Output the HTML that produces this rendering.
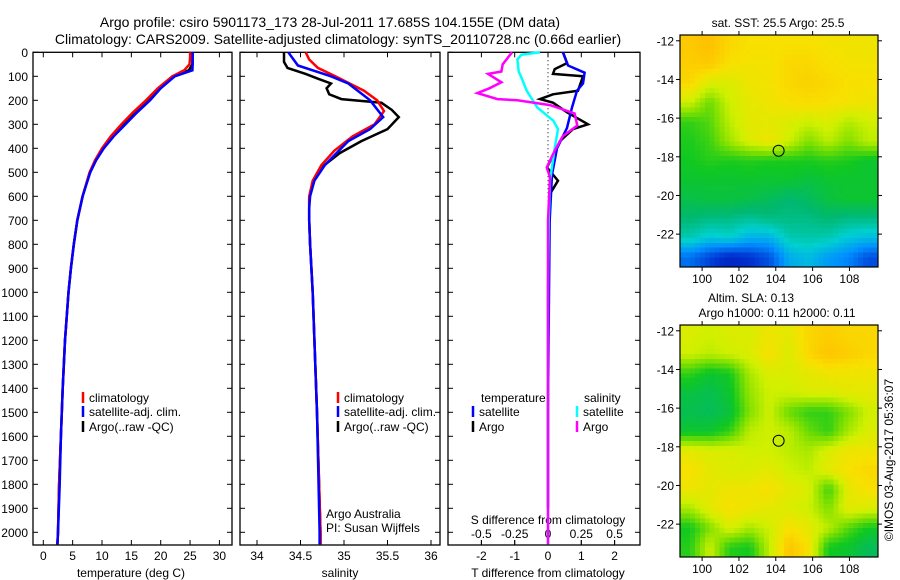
<!DOCTYPE html>
<html><head><meta charset="utf-8"><style>
body{margin:0;background:#fff;}
svg{display:block;font-family:"Liberation Sans",sans-serif;}
text{fill:#000;}
</style></head><body>
<svg id="fig" width="900" height="580" viewBox="0 0 900 580">
<text x="330" y="27" font-size="14" text-anchor="middle">Argo profile: csiro 5901173_173 28-Jul-2011 17.685S 104.155E (DM data)</text>
<text x="338" y="44" font-size="14" text-anchor="middle">Climatology: CARS2009. Satellite-adjusted climatology: synTS_20110728.nc (0.66d earlier)</text>
<g id="g"></g>
</svg>
<script>
// ---- data ----
const tDepth=[0,20,50,75,100,150,200,250,300,350,400,450,500,600,700,800,900,1000,1200,1400,1600,1800,2000,2050];
const tClim=[25.0,25.0,24.9,24.0,22.0,19.5,17.5,15.3,13.3,11.5,10.0,8.8,7.9,6.7,5.8,5.2,4.7,4.3,3.7,3.3,3.0,2.7,2.5,2.4];
const tSat=[25.45,25.45,25.45,25.4,22.4,20.0,18.2,16.0,14.0,12.0,10.3,9.0,8.0,6.7,5.8,5.2,4.7,4.3,3.7,3.3,3.0,2.8,2.5,2.4];
const tArgo=[25.4,25.4,25.4,24.8,22.0,19.8,17.8,15.6,13.6,11.6,10.1,8.9,7.9,6.7,5.8,5.2,4.7,4.3,3.7,3.3,3.0,2.7,2.5,2.4];
const sClimDepth=[0,30,65,100,160,200,245,300,350,410,470,535,600,650,700,800,1000,1500,2000,2050];
const sClim=[34.56,34.6,34.70,34.9,35.23,35.38,35.46,35.35,35.1,34.89,34.74,34.64,34.6,34.6,34.6,34.61,34.64,34.69,34.73,34.73];
const sSatDepth=[0,20,55,100,130,200,270,320,370,410,470,535,600,650,700,800,1000,1500,2000,2050];
const sSat=[34.36,34.4,34.47,34.85,35.05,35.3,35.45,35.3,35.05,34.94,34.78,34.66,34.61,34.6,34.6,34.61,34.64,34.69,34.72,34.72];
const sArgoDepth=[0,40,65,90,110,130,150,175,195,210,240,270,320,370,420,480,540,605,700,800,1000,1500,2000,2050];
const sArgo=[34.31,34.31,34.35,34.56,34.7,34.85,34.8,34.83,34.97,35.43,35.55,35.63,35.5,35.2,34.95,34.74,34.65,34.6,34.6,34.61,34.64,34.69,34.73,34.73];
const dtSatDepth=[0,55,85,130,160,230,315,400,510,700,1000,1500,1900];
const dtSat=[0.45,0.6,1.1,1.05,0.87,0.72,0.57,0.27,0.12,0.05,0.03,0.0,0.0];
const dtArgoDepth=[0,45,70,90,100,160,175,195,210,250,300,320,370,480,535,590,700,1000,1500,1900];
const dtArgo=[0.45,0.57,0.2,0.15,1.05,0.9,0.15,-0.24,0.15,0.57,1.2,0.75,0.36,-0.03,0.3,0.06,0.02,0,0,0];
const dsSatDepth=[0,10,30,80,105,160,230,285,320,400,535,700,1000,2050];
const dsSat=[-0.06,-0.2,-0.23,-0.22,-0.2,-0.16,-0.08,0.04,0.075,0.05,0.015,0.005,0,0];
const dsArgoDepth=[0,50,80,90,125,150,170,195,200,220,255,305,350,410,480,520,700,1000,2050];
const dsArgo=[-0.27,-0.34,-0.35,-0.45,-0.35,-0.44,-0.53,-0.38,-0.23,0.015,0.2,0.22,0.11,0.05,-0.01,0.015,0,0,0];
const depthTicks=[0,100,200,300,400,500,600,700,800,900,1000,1100,1200,1300,1400,1500,1600,1700,1800,1900,2000];
const tTicks=[0,5,10,15,20,25,30];
const sTicks=[34,34.5,35,35.5,36];
const dtTicks=[-2,-1,0,1,2];
const dsTicks=[-0.5,-0.25,0,0.25,0.5];
const dsTickLabels=["-0.5","-0.25","0","0.25","0.5"];
const lonTicks=[100,102,104,106,108];
const latTicks=[-12,-14,-16,-18,-20,-22];
const sstGrid=[
[0.93,0.95,0.9,0.88,0.88,0.88,0.88,0.87,0.87,0.86],
[0.92,0.93,0.88,0.87,0.87,0.9,0.9,0.88,0.87,0.87],
[0.9,0.82,0.82,0.86,0.87,0.9,0.91,0.9,0.88,0.88],
[0.8,0.7,0.8,0.84,0.86,0.88,0.89,0.88,0.87,0.86],
[0.65,0.68,0.78,0.84,0.84,0.82,0.8,0.82,0.77,0.8],
[0.63,0.66,0.75,0.82,0.86,0.8,0.72,0.78,0.72,0.78],
[0.62,0.64,0.63,0.64,0.63,0.63,0.63,0.64,0.63,0.6],
[0.6,0.6,0.6,0.6,0.6,0.6,0.58,0.6,0.6,0.6],
[0.57,0.58,0.58,0.57,0.55,0.52,0.54,0.58,0.6,0.6],
[0.52,0.5,0.5,0.48,0.5,0.5,0.5,0.52,0.5,0.5],
[0.45,0.4,0.42,0.36,0.36,0.45,0.46,0.45,0.4,0.38],
[0.25,0.18,0.12,0.15,0.2,0.35,0.38,0.32,0.28,0.2]];
const slaGrid=[
[0.82,0.8,0.82,0.82,0.86,0.84,0.9,0.92,0.9,0.9],
[0.8,0.78,0.8,0.82,0.88,0.82,0.9,0.94,0.92,0.9],
[0.65,0.6,0.62,0.76,0.82,0.82,0.84,0.86,0.86,0.86],
[0.58,0.56,0.6,0.74,0.8,0.8,0.82,0.82,0.84,0.84],
[0.56,0.55,0.58,0.72,0.8,0.7,0.65,0.65,0.72,0.8],
[0.6,0.6,0.65,0.78,0.8,0.78,0.7,0.65,0.76,0.82],
[0.84,0.82,0.82,0.8,0.8,0.78,0.76,0.82,0.86,0.86],
[0.88,0.84,0.82,0.82,0.84,0.8,0.78,0.84,0.88,0.9],
[0.86,0.84,0.86,0.86,0.88,0.84,0.82,0.66,0.84,0.88],
[0.76,0.84,0.88,0.86,0.84,0.82,0.8,0.72,0.84,0.82],
[0.62,0.72,0.82,0.76,0.8,0.88,0.84,0.78,0.68,0.62],
[0.64,0.8,0.64,0.62,0.78,0.94,0.88,0.62,0.6,0.55]];
const argoLon=104.155, argoLat=-17.685;

// ---- helpers ----
const NS="http://www.w3.org/2000/svg";
const G=document.getElementById('g');
function mk(tag,attrs,parent){const e=document.createElementNS(NS,tag);for(const k in attrs)e.setAttribute(k,attrs[k]);(parent||G).appendChild(e);return e;}
function txt(s,x,y,size,anchor,parent){const e=mk('text',{x:x,y:y,'font-size':size,'text-anchor':anchor||'middle'},parent);e.textContent=s;return e;}
const PTOP=52.3, PBOT=545;
function yD(d){return PTOP+d*0.24;}
function lin(d0,d1,r0,r1){return v=>r0+(v-d0)*(r1-r0)/(d1-d0);}
const xT=lin(0,30,43.3,219.4);
const xS=lin(34,36,257,431);
const xDT=lin(0,1,548,581.3);
const xDS=lin(0,0.25,548,581.3);

function panel(name,x0,x1){
  const r=mk('rect',{x:x0,y:PTOP,width:x1-x0,height:PBOT-PTOP,fill:'none',stroke:'#000','stroke-width':1.3});
  
  
  depthTicks.forEach(d=>{const y=yD(d);mk('line',{x1:x0,x2:x0+5,y1:y,y2:y,stroke:'#000'});mk('line',{x1:x1-5,x2:x1,y1:y,y2:y,stroke:'#000'});});
}
function xticks(vals,labels,xf,labY,top){
  vals.forEach((v,i)=>{const x=xf(v);mk('line',{x1:x,x2:x,y1:PBOT,y2:PBOT-5,stroke:'#000'});if(top)mk('line',{x1:x,x2:x,y1:PTOP,y2:PTOP+5,stroke:'#000'});
    const t=txt(labels[i],x,labY,12);});
}
function series(name,depths,vals,xf,color,w){
  const pts=depths.map((d,i)=>xf(vals[i]).toFixed(1)+','+yD(d).toFixed(1)).join(' ');
  const p=mk('polyline',{points:pts,fill:'none',stroke:color,'stroke-width':w||2.5,'stroke-linejoin':'miter'});
  
  
}
function legend(x,y,color,label){
  const l=mk('line',{x1:x,x2:x,y1:y-10,y2:y+1,stroke:color,'stroke-width':2.5});
  
  
  const t=txt(label,x+6,y,12,'start');
  
  
}

// depth labels
depthTicks.forEach(d=>{const t=txt(String(d),28,yD(d)+4.5,12,'end');});

// panel 1 temperature
panel('temperature-panel',33,232);
xticks(tTicks,tTicks.map(String),xT,560,true);
txt('temperature (deg C)',131,577,12);
series('temp-argo',tDepth,tArgo,xT,'#000');
series('temp-climatology',tDepth,tClim,xT,'#f00');
series('temp-satellite',tDepth,tSat,xT,'#00f');
legend(83,402,'#f00','climatology');
legend(83,416,'#00f','satellite-adj. clim.');
legend(83,431,'#000','Argo(..raw -QC)');

// panel 2 salinity
panel('salinity-panel',240,440);
xticks(sTicks,["34","34.5","35","35.5","36"],xS,560,true);
txt('salinity',340,577,12);
series('sal-argo',sArgoDepth,sArgo,xS,'#000');
series('sal-climatology',sClimDepth,sClim,xS,'#f00');
series('sal-satellite',sSatDepth,sSat,xS,'#00f');
legend(338,402,'#f00','climatology');
legend(338,416,'#00f','satellite-adj. clim.');
legend(338,431,'#000','Argo(..raw -QC)');
txt('Argo Australia',326,518,12,'start');
txt('PI: Susan Wijffels',326,532,12,'start');

// panel 3 differences
panel('difference-panel',448,640);
mk('line',{x1:548,x2:548,y1:PTOP,y2:PBOT,stroke:'#000','stroke-dasharray':'1,3'});
dsTicks.forEach((v,i)=>{const x=xDS(v);mk('line',{x1:x,x2:x,y1:PTOP,y2:PTOP+5,stroke:'#000'});});
xticks(dtTicks,dtTicks.map(String),xDT,560,false);
dsTicks.forEach((v,i)=>{const x=xDS(v);mk('line',{x1:x,x2:x,y1:PBOT,y2:PBOT-5,stroke:'#000'});const t=txt(dsTickLabels[i],x,538,12);});
txt('S difference from climatology',548,524,12);
txt('T difference from climatology',548,577,12);
series('dT-argo',dtArgoDepth,dtArgo,xDT,'#000');
series('dT-satellite',dtSatDepth,dtSat,xDT,'#00f');
series('dS-satellite',dsSatDepth,dsSat,xDS,'#0ff');
series('dS-argo',dsArgoDepth,dsArgo,xDS,'#f0f');
txt('temperature',481,402,12,'start');
txt('salinity',584,402,12,'start');
legend(473,416,'#00f','satellite');
legend(473,431,'#000','Argo');
legend(577,416,'#0ff','satellite');
legend(577,431,'#f0f','Argo');

// ---- maps ----
const stops=[[0,[0,0,144]],[0.15,[0,48,208]],[0.3,[0,144,255]],[0.42,[0,208,208]],[0.52,[0,184,112]],[0.62,[16,200,32]],[0.72,[128,224,0]],[0.8,[208,240,0]],[0.88,[248,224,0]],[0.95,[255,192,0]],[1,[255,144,0]]];
function cmap(v){for(let i=1;i<stops.length;i++){if(v<=stops[i][0]){const a=stops[i-1],b=stops[i],f=(v-a[0])/(b[0]-a[0]);const c=a[1].map((q,k)=>Math.round(q+(b[1][k]-q)*f));return 'rgb('+c.join(',')+')';}}return 'rgb(255,144,0)';}
function sample(grid,fr,fc){
  const R=grid.length,C=grid[0].length;
  const r=Math.max(0,Math.min(R-1,fr-0.5)),c=Math.max(0,Math.min(C-1,fc-0.5));
  const r0=Math.floor(r),c0=Math.floor(c),r1=Math.min(R-1,r0+1),c1=Math.min(C-1,c0+1),dr=r-r0,dc=c-c0;
  return grid[r0][c0]*(1-dr)*(1-dc)+grid[r0][c1]*(1-dr)*dc+grid[r1][c0]*dr*(1-dc)+grid[r1][c1]*dr*dc;
}
function drawMap(name,grid,top){
  const x0=680,x1=878,y0=top,y1=top+232;
  const lonX=lin(98.8,109.55,x0,x1), latY=lin(-11.7,-23.7,y0,y1);
  const g=mk('g',{'shape-rendering':'crispEdges'});
  
  
  const R=grid.length,C=grid[0].length,NR=R*4,NC=C*4,cw=(x1-x0)/NC,rh=(y1-y0)/NR;
  for(let r=0;r<NR;r++)for(let c=0;c<NC;c++){
    const v=sample(grid,(r+0.5)/4,(c+0.5)/4);
    const cell=mk('rect',{x:(x0+c*cw).toFixed(2),y:(y0+r*rh).toFixed(2),width:(cw+0.6).toFixed(2),height:(rh+0.6).toFixed(2),fill:cmap(v)},g);
    
    
  }
  mk('rect',{x:x0,y:y0,width:x1-x0,height:y1-y0,fill:'none',stroke:'#000','stroke-width':1.2});
  lonTicks.forEach(v=>{const x=lonX(v);mk('line',{x1:x,x2:x,y1:y0,y2:y0-4,stroke:'#000'});mk('line',{x1:x,x2:x,y1:y1,y2:y1+4,stroke:'#000'});
    const t=txt(String(v),x,y1+16,12);});
  latTicks.forEach(v=>{const y=latY(v);mk('line',{x1:x0,x2:x0-4,y1:y,y2:y,stroke:'#000'});mk('line',{x1:x1,x2:x1+4,y1:y,y2:y,stroke:'#000'});
    const t=txt(String(v),674,y+4.5,12,'end');});
  const m=mk('circle',{cx:lonX(argoLon),cy:latY(argoLat),r:5.5,fill:'none',stroke:'#000','stroke-width':1});
  
  
}
drawMap('sst-map',sstGrid,35);
drawMap('sla-map',slaGrid,325);
txt('sat. SST: 25.5  Argo: 25.5',778,27,12);
txt('Altim. SLA: 0.13',751,302,12);
txt('Argo h1000: 0.11  h2000: 0.11',777,317,12);
const cr=txt('©IMOS 03-Aug-2017 05:36:07',0,0,12);
cr.setAttribute('transform','translate(893,460) rotate(-90)');


</script>
</body></html>
